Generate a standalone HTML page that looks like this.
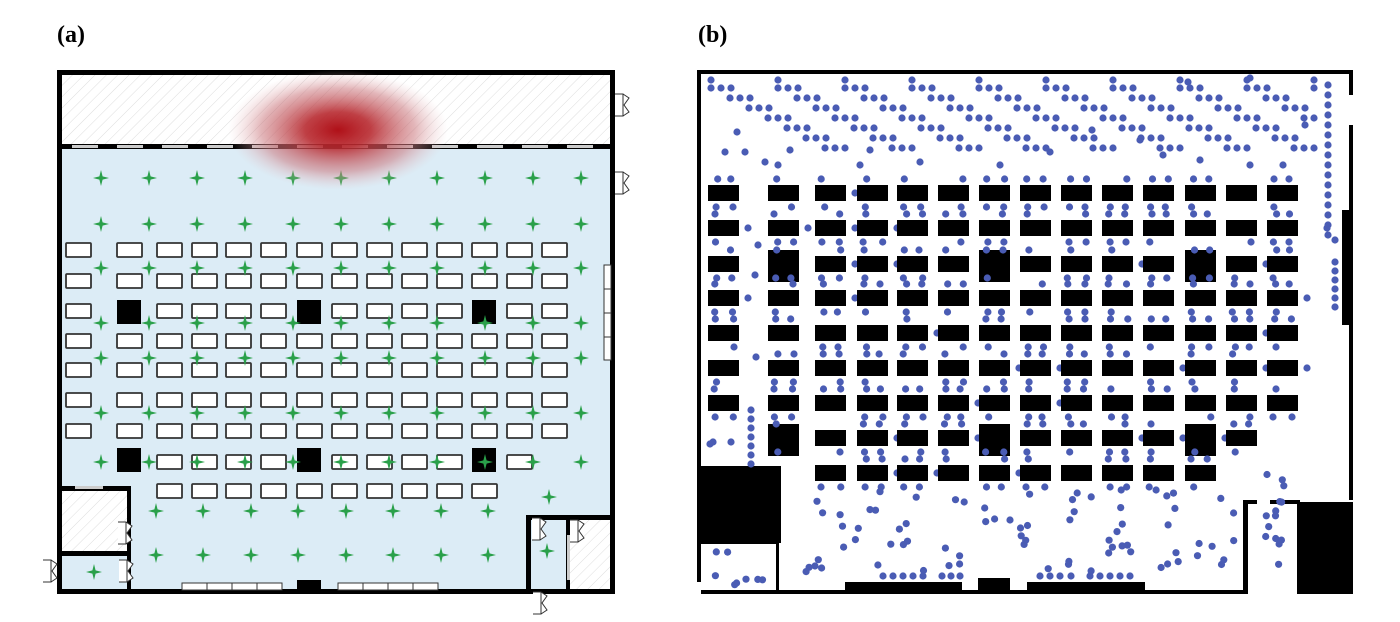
<!DOCTYPE html>
<html><head><meta charset="utf-8"><style>
html,body{margin:0;padding:0;background:#fff;}
svg{display:block;}
</style></head><body>
<svg id="s" width="1400" height="622" xmlns="http://www.w3.org/2000/svg">
<defs>
<pattern id="hatch" width="8" height="8" patternUnits="userSpaceOnUse" patternTransform="rotate(45)">
<rect width="8" height="8" fill="#fff"/><line x1="0" y1="0" x2="0" y2="8" stroke="#ddd" stroke-width="1"/>
</pattern>
<radialGradient id="heat" cx="0.5" cy="0.5" r="0.5">
<stop offset="0" stop-color="#b01018"/><stop offset="0.3" stop-color="#b82a30" stop-opacity="0.9"/>
<stop offset="0.7" stop-color="#cc7a80" stop-opacity="0.55"/><stop offset="1" stop-color="#e8c0c4" stop-opacity="0"/>
</radialGradient>
</defs>
<text x="57" y="42" font-family="Liberation Serif, serif" font-weight="bold" font-size="24">(a)</text>
<text x="698" y="42" font-family="Liberation Serif, serif" font-weight="bold" font-size="24">(b)</text>
<rect x="59" y="72" width="554" height="75" fill="url(#hatch)"/>
<rect x="59" y="147" width="554" height="445" fill="#dcecf6"/>
<rect x="59" y="489" width="70" height="64" fill="url(#hatch)"/>
<rect x="59" y="555" width="70" height="36" fill="#dcecf6"/>
<rect x="570" y="519" width="43" height="73" fill="url(#hatch)"/>
<g id="a"></g>
<ellipse cx="338" cy="130" rx="110" ry="60" fill="url(#heat)"/>
<g id="b"></g>
</svg>
<script>
var NS="http://www.w3.org/2000/svg";
function el(p,t,a){var e=document.createElementNS(NS,t);for(var k in a)e.setAttribute(k,a[k]);p.appendChild(e);return e;}
var A=document.getElementById('a'),B=document.getElementById('b');
function R(g,x,y,w,h,f,extra){var o={x:x,y:y,width:w,height:h,fill:f};for(var k in extra)o[k]=extra[k];return el(g,'rect',o);}
R(A,57,70,558,5,'#000');R(A,57,70,5,524,'#000');R(A,610,70,5,524,'#000');R(A,57,589,558,5,'#000');
for(var x=62;x<610;x+=45){var w=Math.min(45,610-x);R(A,x,144,w,5,'#000');if(w>36)R(A,x+10,145,26,3,'#ccc');}
function door(g,x,y){el(g,'path',{d:'M'+x+' '+y+' h8 v22 h-8 M'+(x+8)+' '+y+' l6 4 l-5 7 l5 7 l-6 4',fill:'#fff',stroke:'#333','stroke-width':1});}
door(A,615,94);door(A,615,172);
R(A,604,265,7,95,'#fff',{stroke:'#333','stroke-width':1});
[289,313,337].forEach(function(y){el(A,'line',{x1:604,y1:y,x2:611,y2:y,stroke:'#333'});});
R(A,57,486,74,5,'#000');R(A,127,486,4,108,'#000');R(A,57,551,74,5,'#000');
R(A,75,486,28,3,'#ccc');
door(A,118,522);door(A,43,560);door(A,119,560);
R(A,526,515,5,79,'#000');R(A,526,515,89,5,'#000');R(A,566,518,4,76,'#000');
R(A,567,535,3,45,'#ccc');door(A,532,518);door(A,533,592);door(A,570,520);
var cols=[66,117,157,192,226,261,297,332,367,402,437,472,507,542];
var rows=[243,274,304,334,363,393,424,455,484];
function desk(x,y){R(A,x,y,25,14,'#fff',{stroke:'#333','stroke-width':1.8,rx:1});}
function pil(x,y){R(A,x,y,24,24,'#000');}
rows.forEach(function(y,ri){cols.forEach(function(x,ci){
 if(ri==2&&(ci==1||ci==6||ci==11)){pil(x,y-4);return;}
 if(ri==7){if(ci==0)return;if(ci==1||ci==6||ci==11){pil(x,y-7);return;} if(ci==13)return;}
 if(ri==8&&(ci<2||ci>11))return;
 desk(x,y);});});
[182,207,232,257,338,363,388,413].forEach(function(x){R(A,x,583,25,7,'#fff',{stroke:'#333'});});
R(A,297,580,24,10,'#000');
function star(x,y){el(A,'path',{d:'M'+x+' '+(y-8)+' L'+(x+1.6)+' '+(y-1.6)+' L'+(x+8)+' '+y+' L'+(x+1.6)+' '+(y+1.6)+' L'+x+' '+(y+8)+' L'+(x-1.6)+' '+(y+1.6)+' L'+(x-8)+' '+y+' L'+(x-1.6)+' '+(y-1.6)+'Z',fill:'#2aa04a'});}
var sc=[101,149,197,245,293,341,389,437,485,533,581];
[178,224,268,323,358,413,462].forEach(function(y){sc.forEach(function(x){star(x,y);});});
[156,203,251,298,346,393,441,488].forEach(function(x){star(x,511);star(x,555);});
star(549,497);star(547,551);star(94,572);
R(B,697,70,656,4,'#000');R(B,697,70,4,524,'#000');R(B,697,590,548,4,'#000');
R(B,1349,70,4,25,'#000');R(B,1349,125,4,85,'#000');R(B,1342,210,11,115,'#000');R(B,1349,325,4,175,'#000');
R(B,697,466,84,77,'#000');R(B,697,540,80,4,'#000');R(B,776,540,3,54,'#000');
R(B,1243,502,5,92,'#000');R(B,1243,500,14,4,'#000');R(B,1297,502,56,92,'#000');R(B,1270,500,30,4,'#000');
R(B,845,582,117,12,'#000');R(B,978,578,32,16,'#000');R(B,1027,582,118,12,'#000');
R(B,697,582,4,12,'#fff');
var bc=[708,768,815,857,897,938,979,1020,1061,1102,1143,1185,1226,1267];
var br=[185,220,256,290,325,360,395,430,465];
var seed=7;function rnd(){seed=(seed*16807)%2147483647;return seed/2147483647;}
function dot(x,y){el(B,'circle',{cx:x.toFixed(1),cy:y.toFixed(1),r:3.6,fill:'#4a5cb4'});}
br.forEach(function(y,ri){bc.forEach(function(x,ci){
 var big=(ri==2||ri==7)&&(ci==1||ci==6||ci==11);
 if(ri==7&&ci==0){dot(713,442);dot(731,442);return;}
 if(ri==8&&(ci<2||ci>11))return;
 if(ri==7&&ci==13)return;
 if(big){R(B,x,y-6,31,32,'#000');}else R(B,x,y,31,16,'#000');
 if(rnd()<0.8){dot(x+6+rnd()*4,y-6);} if(rnd()<0.6)dot(x+22+rnd()*4,y-6);
 if(rnd()<0.75)dot(x+6+rnd()*4,y+22);if(rnd()<0.6)dot(x+22+rnd()*4,y+22);
 if(rnd()<0.2)dot(x+40,y+8);
});});
for(var g=0;g<10;g++){var x0=711+g*67;dot(x0,80);
 for(var s=0;s<7;s++){var yy=88+s*10;for(var k=0;k<3;k++){var xx=x0+s*19+k*10;if(xx<1318)dot(xx,yy);}}}
[[737,132],[725,152],[745,152],[765,162],[778,165],[860,165],[920,162],[1000,165],[1092,130],[1163,155],[1140,140],[1200,160],[1250,165],[1283,165],[1305,125],[790,150],[870,150],[1050,152],[1188,82],[1250,78]].forEach(function(p){dot(p[0],p[1]);});
for(var y=85;y<=235;y+=10)dot(1328,y);
for(var y=262;y<=310;y+=9)dot(1335,y);dot(1327,228);dot(1335,240);
for(var y=410;y<=465;y+=9)dot(751,y);dot(710,444);dot(758,245);dot(755,275);dot(756,357);
for(var i=0;i<75;i++){var x=800+rnd()*440,y=490+rnd()*85;dot(x,y);}
for(var i=0;i<14;i++)dot(1265+rnd()*20,470+rnd()*100);
for(var i=0;i<8;i++)dot(704+rnd()*60,550+rnd()*35);
[885,895,905,915,925,944,953,962].forEach(function(x){dot(x-2,576);});
[1040,1050,1060,1071,1090,1100,1110,1120,1130].forEach(function(x){dot(x,576);});
</script>
</body></html>
